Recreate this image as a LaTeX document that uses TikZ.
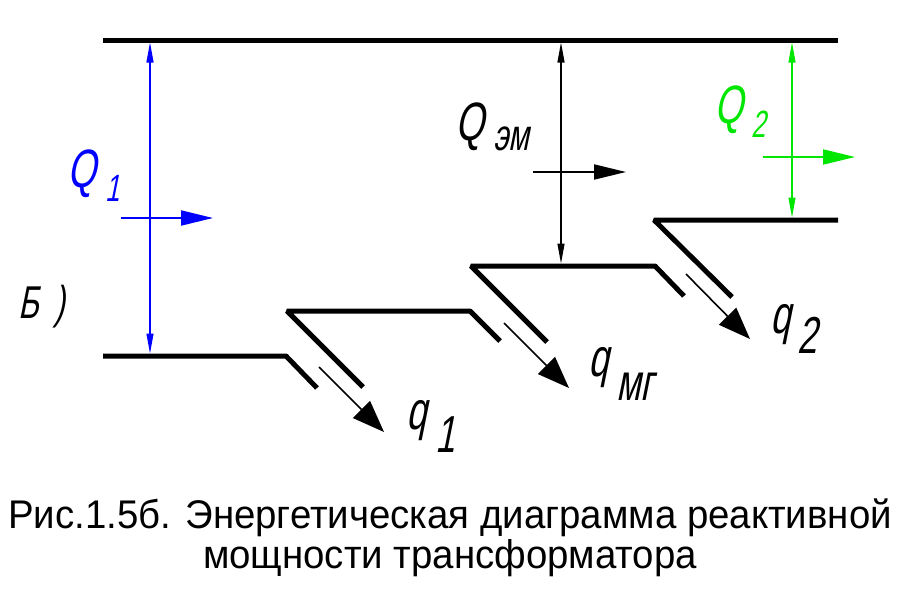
\documentclass[tikz,border=0pt]{standalone}
\usepackage{fontspec}
\setmainfont{Liberation Sans}
\newfontfamily\capfont[FakeStretch=0.96]{Liberation Sans}
\newfontfamily\lblfont[FakeSlant=0.2,FakeStretch=0.68]{Liberation Sans}
\usetikzlibrary{arrows.meta}
\definecolor{qblue}{RGB}{0,0,255}
\definecolor{qgreen}{RGB}{0,230,0}
\newcommand{\bigq}[1]{{\fontsize{54}{54}\selectfont #1}}
\newcommand{\subq}[1]{{\fontsize{38}{38}\selectfont #1}}
\newcommand{\subl}[1]{{\fontsize{52}{52}\selectfont #1}}

\tikzset{
  level/.style={line width=5pt, line join=bevel},
  dimline/.style={line width=1.2pt, {Triangle[length=20pt,width=7pt]}-{Triangle[length=20pt,width=7pt]}, shorten <=2.5pt, shorten >=2.5pt},
  powerarrow/.style={line width=2pt, -{Triangle[length=32pt,width=15pt]}},
  lossarrow/.style={line width=1.6pt, -{Triangle[length=32pt,width=24pt]}},
  lbl/.style={inner sep=0pt, anchor=base west, font=\lblfont},
}

\begin{document}
\begin{tikzpicture}[x=1pt,y=-1pt]
  \useasboundingbox (0,0) rectangle (900,605);
  % power levels
  \coordinate (topL) at (103,40);   \coordinate (topR) at (838,40);
  \coordinate (l1L) at (103,356);   \coordinate (l1K) at (286,356);  \coordinate (l1E) at (317,388);
  \coordinate (l2S) at (363,387);   \coordinate (l2L) at (287,311);  \coordinate (l2R) at (470,311);  \coordinate (l2E) at (500,341);
  \coordinate (l3S) at (547,342);   \coordinate (l3L) at (471,266);  \coordinate (l3R) at (655,266);  \coordinate (l3E) at (684,296);
  \coordinate (l4S) at (732,297);   \coordinate (l4L) at (654,220);  \coordinate (l4R) at (838,220);
  \draw[level] (topL) -- (topR);
  \draw[level] (l1L) -- (l1K) -- (l1E);
  \draw[level] (l2S) -- (l2L) -- (l2R) -- (l2E);
  \draw[level] (l3S) -- (l3L) -- (l3R) -- (l3E);
  \draw[level] (l4S) -- (l4L) -- (l4R);
  % losses
  \coordinate (q1a) at (319,367);   \coordinate (q1b) at (384,432);
  \coordinate (qmga) at (504,323);  \coordinate (qmgb) at (569,388);
  \coordinate (q2a) at (686,274);   \coordinate (q2b) at (750,339);
  \draw[lossarrow] (q1a) -- (q1b);
  \draw[lossarrow] (qmga) -- (qmgb);
  \draw[lossarrow] (q2a) -- (q2b);
  % Q1
  \coordinate (Q1t) at (150,40);    \coordinate (Q1b) at (150,356);
  \coordinate (Q1a) at (121,218);   \coordinate (Q1e) at (213,218);
  \draw[dimline,qblue] (Q1t) -- (Q1b);
  \draw[powerarrow,qblue] (Q1a) -- (Q1e);
  % Qem
  \coordinate (Qemt) at (561,40);   \coordinate (Qemb) at (561,266);
  \coordinate (Qema) at (533,172);  \coordinate (Qeme) at (626,172);
  \draw[dimline] (Qemt) -- (Qemb);
  \draw[powerarrow] (Qema) -- (Qeme);
  % Q2
  \coordinate (Q2t) at (792,40);    \coordinate (Q2b) at (792,220);
  \coordinate (Q2a) at (763,157);   \coordinate (Q2e) at (855,157);
  \draw[dimline,qgreen] (Q2t) -- (Q2b);
  \draw[powerarrow,qgreen] (Q2a) -- (Q2e);
  % labels
  \node[lbl,qblue] (Q1lbl) at (67,187) {\bigq{Q}};
  \node[lbl,qblue] (Q1sub) at (105,201) {\subq{1}};
  \node[lbl] (Qemlbl) at (455,140) {\bigq{Q}};
  \node[lbl] (Qemsub) at (493,150) {{\fontsize{44}{44}\selectfont эм}};
  \node[lbl,qgreen] (Q2lbl) at (714,123) {\bigq{Q}};
  \node[lbl,qgreen] (Q2sub) at (751,137) {\subq{2}};
  \node[lbl] (q1lbl) at (406,429) {\bigq{q}};
  \node[lbl] (q1sub) at (435,452) {\subl{1}};
  \node[lbl] (qmglbl) at (588,376) {\bigq{q}};
  \node[lbl] (qmgsub) at (616,400) {\subl{мг}};
  \node[lbl] (q2lbl) at (770,333) {\bigq{q}};
  \node[lbl] (q2sub) at (797,353) {\subl{2}};
  \node[lbl] (blbl) at (18,318) {\fontsize{46}{46}\selectfont Б\,\,)};
  % caption
  \node[inner sep=0pt, anchor=base, font=\capfont\fontsize{40}{40}\selectfont] (cap1) at (450,528) {Рис.1.5б. Энергетическая диаграмма реактивной};
  \node[inner sep=0pt, anchor=base, font=\capfont\fontsize{40}{40}\selectfont] (cap2) at (450,568) {мощности трансформатора};
\end{tikzpicture}
\end{document}
